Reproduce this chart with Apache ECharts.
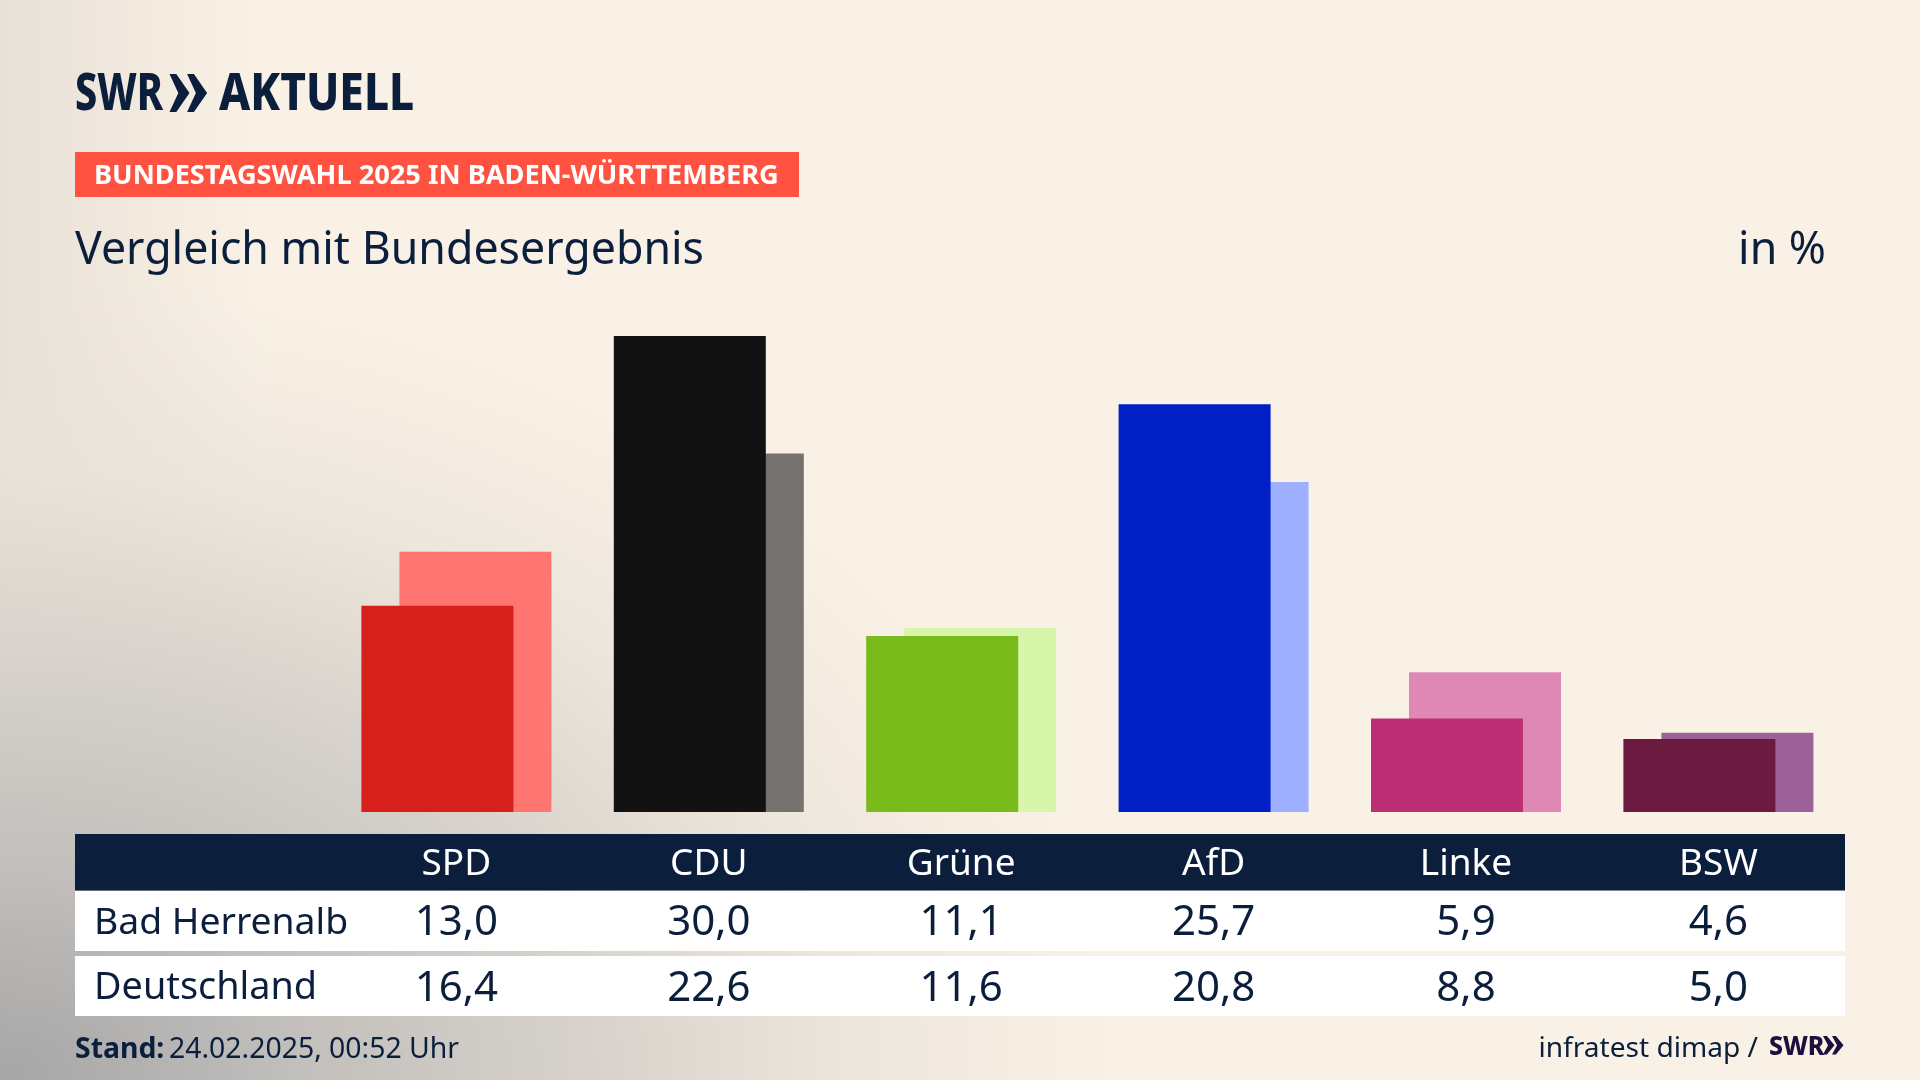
<!DOCTYPE html>
<html lang="de">
<head>
<meta charset="utf-8">
<title>Vergleich mit Bundesergebnis</title>
<script src="https://cdn.jsdelivr.net/npm/echarts@6/dist/echarts.min.js"></script>
<style>
  html, body { margin: 0; padding: 0; background: #faf1e6; }
  #chart {
    width: 1920px;
    height: 1080px;
    background:
      radial-gradient(ellipse 1120px 800px at 0 100%,
        #a6a6a6 0%, #c2bfbc 27%, #d8d3cc 54%, rgba(233,226,216,0.75) 76%, rgba(250,241,230,0) 100%),
      linear-gradient(to right, rgba(225,218,208,0.7) 0, rgba(250,241,230,0) 260px),
      #faf1e6;
  }
</style>
</head>
<body>
<div id="chart"></div>
<script>
const parties = ['SPD', 'CDU', 'Grüne', 'AfD', 'Linke', 'BSW']
const localValues = [13.0, 30.0, 11.1, 25.7, 5.9, 4.6]
const federalValues = [16.4, 22.6, 11.6, 20.8, 8.8, 5.0]
const localColors = ['#d71f1c', '#121212', '#78bb1a', '#0020c6', '#bd2f74', '#6b1a40']
const federalColors = ['#ff7570', '#74716e', '#d7f6a9', '#9fafff', '#df88b6', '#9c6196']
const rowLabels = ['Bad Herrenalb', 'Deutschland']

const navy = '#0b1f3d'
const fontFamily = '"Noto Sans", sans-serif'
const formatValue = (v) => v.toFixed(1).replace('.', ',')

const tableAxis = (data, margin, color, fontSize) => ({
  type: 'category',
  data,
  position: 'bottom',
  z: 5,
  axisLine: { show: false },
  axisTick: { show: false },
  axisLabel: {
    interval: 0,
    margin,
    color,
    fontFamily,
    fontSize,
    verticalAlign: 'middle',
    hideOverlap: false,
  },
})

const rect = (x, y, width, height, fill) => ({
  type: 'rect',
  z: 0,
  shape: { x, y, width, height },
  style: { fill },
})

const label = (x, y, text, fontSize, fill, extra = {}, scaleX = 1) => ({
  type: 'text',
  z: 6,
  x,
  y,
  scaleX,
  style: {
    text,
    fontSize,
    fontFamily,
    fill,
    textVerticalAlign: 'middle',
    ...extra,
  },
})

// the two arrows of the SWR logo
const chevrons = (x, y, w, h, shift, fill) => [0, shift].map(dx => ({
  type: 'polygon',
  z: 6,
  shape: {
    points: [
      [x + dx, y],
      [x + dx + w * 0.34, y],
      [x + dx + w, y + h / 2],
      [x + dx + w * 0.34, y + h],
      [x + dx, y + h],
      [x + dx + w * 0.44, y + h / 2],
    ],
  },
  style: { fill },
}))

const chart = echarts.init(document.getElementById('chart'))

chart.setOption({
  backgroundColor: 'transparent',
  animation: false,
  grid: { left: 330.2, top: 336, width: 1514.4, height: 476, containLabel: false },
  xAxis: [
    tableAxis(parties, 52.5, '#ffffff', 37),
    tableAxis(localValues.map(formatValue), 111.5, navy, 42),
    tableAxis(federalValues.map(formatValue), 177.5, navy, 42),
  ],
  yAxis: { type: 'value', min: 0, max: 30, show: false },
  series: [
    {
      name: rowLabels[0],
      type: 'bar',
      z: 3,
      barWidth: 152,
      barGap: '-75%',
      data: localValues.map((value, i) => ({ value, itemStyle: { color: localColors[i] } })),
    },
    {
      name: rowLabels[1],
      type: 'bar',
      z: 2,
      barWidth: 152,
      data: federalValues.map((value, i) => ({ value, itemStyle: { color: federalColors[i] } })),
    },
  ],
  graphic: [
    rect(75, 834, 1770, 56.5, navy),
    rect(75, 891, 1770, 60, '#ffffff'),
    rect(75, 956, 1770, 60, '#ffffff'),
    rect(75, 152, 724, 45, '#ff5240'),
    label(75, 95, 'SWR', 52, navy, { fontWeight: 800 }, 0.76),
    ...chevrons(169.5, 74, 20, 38, 17.6, navy),
    label(219, 95, 'AKTUELL', 52, navy, { fontWeight: 800 }, 0.85),
    label(94, 176.5, 'BUNDESTAGSWAHL 2025 IN BADEN-WÜRTTEMBERG', 27.2, '#ffffff', { fontWeight: 700 }),
    label(75, 251.5, 'Vergleich mit Bundesergebnis', 44.7, navy),
    label(1826, 251.5, 'in %', 44.7, navy, { textAlign: 'right' }),
    label(94, 923, rowLabels[0], 37.3, navy),
    label(94, 988, rowLabels[1], 37.8, navy),
    label(75, 1049.5, 'Stand:', 28.4, navy, { fontWeight: 700 }),
    label(169, 1049.5, '24.02.2025, 00:52 Uhr', 28.4, navy),
    label(1538.5, 1048.5, 'infratest dimap /', 28.1, navy),
    label(1769, 1047, 'SWR', 27, '#1e0f3f', { fontWeight: 800 }, 0.92),
    ...chevrons(1823, 1036, 11.5, 18.5, 9, '#1e0f3f'),
  ],
})
</script>
</body>
</html>
